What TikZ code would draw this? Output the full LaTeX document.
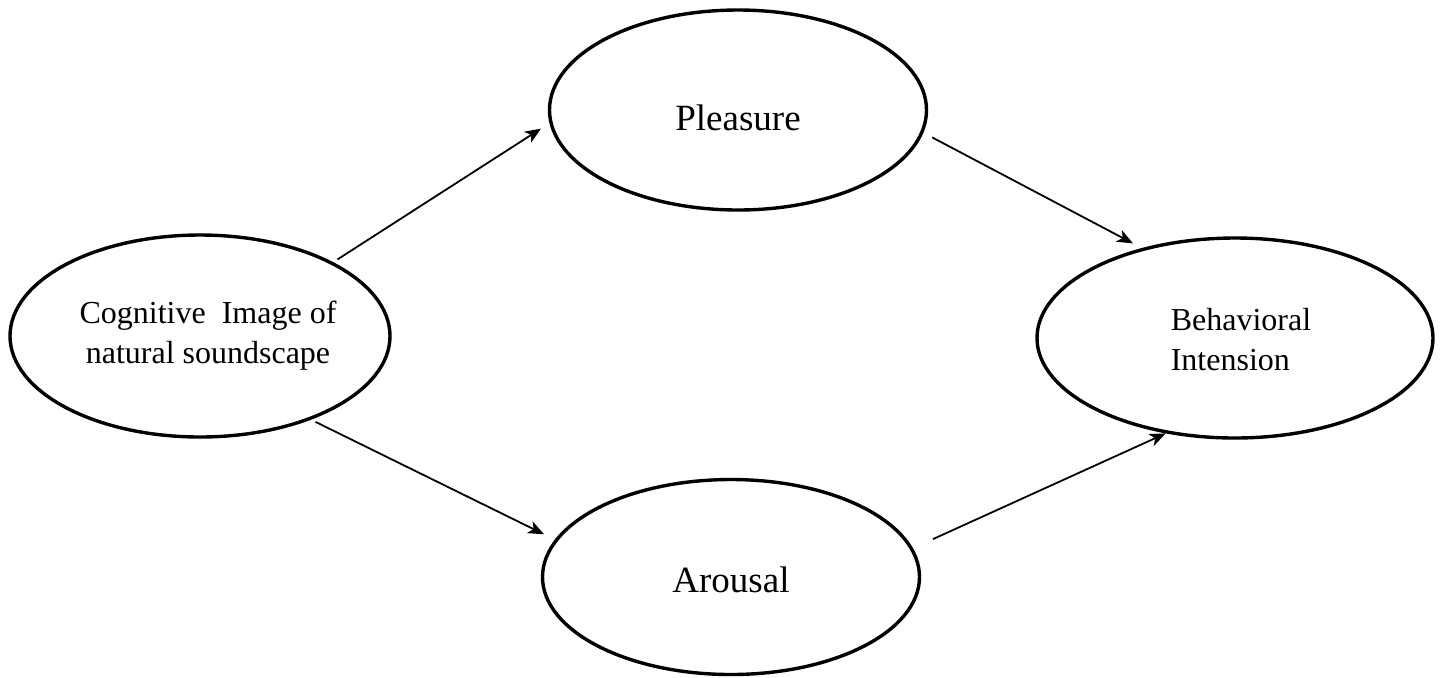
\documentclass[tikz,border=0pt]{standalone}
\usepackage{fontspec}
\setmainfont{Liberation Serif}
\usetikzlibrary{shapes.geometric,arrows.meta}
\begin{document}
\begin{tikzpicture}[x=0.5pt,y=-0.5pt,
  oval/.style={draw, ellipse, line width=1.7pt, inner sep=0pt},
  smalltext/.style={font=\fontsize{16}{20}\selectfont},
  bigtext/.style={font=\fontsize{18.5}{22}\selectfont},
  link/.style={line width=0.9pt, -{Stealth[length=8pt,width=6.5pt,inset=2.2pt]}}]
\useasboundingbox (0,0) rectangle (1443,677);
\node[oval, minimum width=190pt, minimum height=101pt, smalltext, align=center] (L) at (200,336) {};
\node[smalltext, align=center] (Lt) at (208,336) {Cognitive \ Image of\\natural soundscape};
\node[oval, minimum width=188.5pt, minimum height=100pt, bigtext] (P) at (738,110) {};
\node[bigtext] (Pt) at (738,118) {Pleasure};
\node[oval, minimum width=188.5pt, minimum height=97.5pt, bigtext] (A) at (731,577) {};
\node[bigtext] (At) at (731,580) {Arousal};
\node[oval, minimum width=198pt, minimum height=100pt] (B) at (1235,338) {};
\node[smalltext, align=left] (Bt) at (1241,340) {Behavioral\\Intension};
\draw[link, shorten <=2.5pt, shorten >=5pt] (L.29.4) -- (P.184.9);
\draw[link, shorten <=5pt, shorten >=5pt] (P.353.6) -- (B.136.2);
\draw[link, shorten <=2.5pt, shorten >=6pt] (L.323.4) -- (A.168.2);
\draw[link, shorten <=11pt, shorten >=0pt] (A.9.6) -- (B.234.5);
\end{tikzpicture}
\end{document}
